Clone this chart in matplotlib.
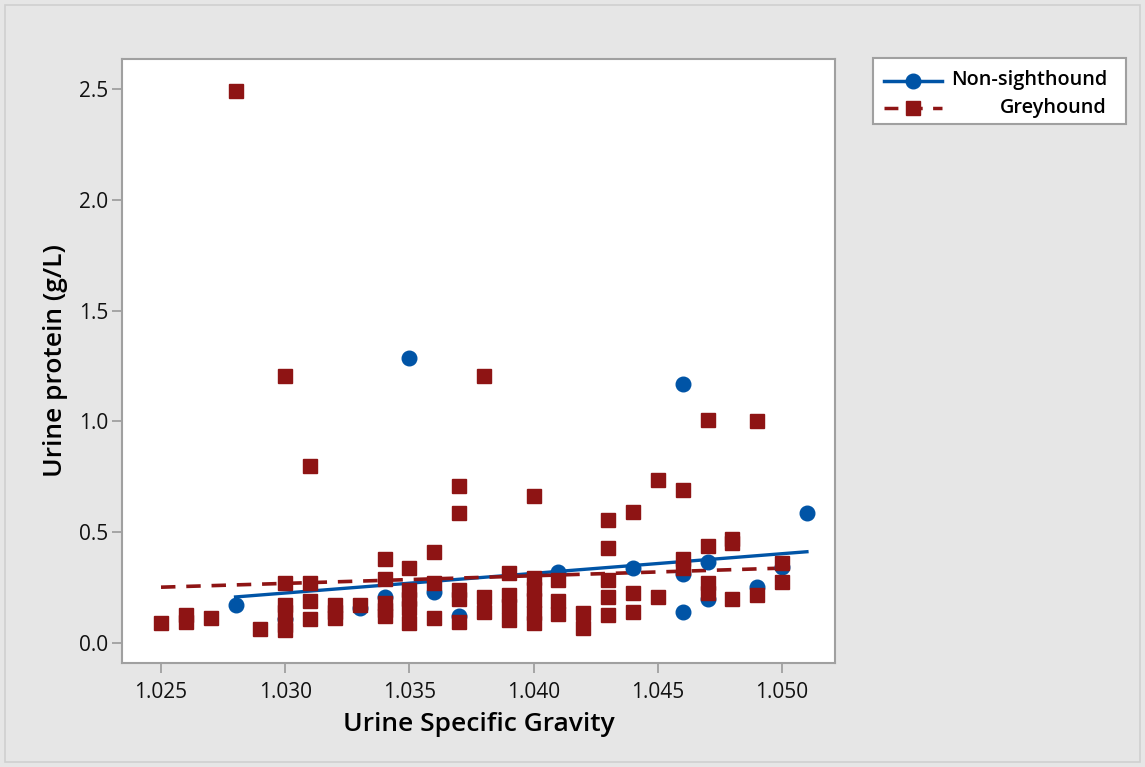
import numpy as np
import matplotlib.pyplot as plt
from matplotlib.lines import Line2D

plt.rcParams['font.family'] = ['Open Sans', 'DejaVu Sans']

# greyhound samples: specific gravity and protein (g/L)
grey_sg = [1.025,
           1.026, 1.026,
           1.027,
           1.028,
           1.029,
           1.030, 1.030, 1.030, 1.030, 1.030, 1.030,
           1.031, 1.031, 1.031, 1.031,
           1.032, 1.032, 1.032,
           1.033,
           1.034, 1.034, 1.034, 1.034, 1.034,
           1.035, 1.035, 1.035, 1.035, 1.035,
           1.036, 1.036, 1.036,
           1.037, 1.037, 1.037, 1.037, 1.037,
           1.038, 1.038, 1.038,
           1.039, 1.039, 1.039, 1.039,
           1.040, 1.040, 1.040, 1.040, 1.040, 1.040,
           1.041, 1.041, 1.041,
           1.042, 1.042,
           1.043, 1.043, 1.043, 1.043, 1.043,
           1.044, 1.044, 1.044,
           1.045, 1.045,
           1.046, 1.046, 1.046,
           1.047, 1.047, 1.047, 1.047,
           1.048, 1.048, 1.048,
           1.049, 1.049,
           1.050, 1.050]
grey_prot = [0.09,
             0.125, 0.095,
             0.115,
             2.49,
             0.065,
             1.205, 0.27, 0.17, 0.14, 0.08, 0.06,
             0.80, 0.27, 0.19, 0.11,
             0.17, 0.14, 0.115,
             0.17,
             0.38, 0.29, 0.18, 0.15, 0.12,
             0.34, 0.24, 0.20, 0.16, 0.09,
             0.41, 0.27, 0.115,
             0.71, 0.585, 0.24, 0.20, 0.095,
             1.205, 0.21, 0.14,
             0.315, 0.215, 0.165, 0.105,
             0.665, 0.295, 0.245, 0.195, 0.135, 0.09,
             0.285, 0.19, 0.13,
             0.135, 0.07,
             0.555, 0.43, 0.285, 0.21, 0.125,
             0.59, 0.225, 0.14,
             0.735, 0.21,
             0.69, 0.38, 0.34,
             1.005, 0.44, 0.27, 0.225,
             0.47, 0.45, 0.20,
             1.00, 0.215,
             0.36, 0.275]

# non-sighthound samples
nons_sg = [1.028, 1.030, 1.033, 1.034, 1.035, 1.036, 1.037, 1.041, 1.044,
           1.046, 1.046, 1.046, 1.047, 1.047, 1.049, 1.050, 1.051]
nons_prot = [0.17, 0.11, 0.16, 0.21, 1.285, 0.23, 0.12, 0.32, 0.34,
             1.17, 0.31, 0.14, 0.365, 0.20, 0.255, 0.345, 0.585]

# fitted lines (end points)
nons_fit_sg = [1.028, 1.051]
nons_fit = [0.208, 0.412]
grey_fit_sg = [1.025, 1.050]
grey_fit = [0.252, 0.338]

labels = ['Non-sighthound', 'Greyhound']
xticks = [1.025, 1.030, 1.035, 1.040, 1.045, 1.050]
yticks = [0.0, 0.5, 1.0, 1.5, 2.0, 2.5]

blue = '#0054a6'
red = '#8e1414'
edge = '#a0a0a0'
W, H = 1145, 767

fig = plt.figure(figsize=(W / 100, H / 100), dpi=100, facecolor='#e6e6e6')
ax = fig.add_axes([122 / W, 1 - 663 / H, (835 - 122) / W, (663 - 59) / H])
ax.set_facecolor('white')

ax.plot(nons_fit_sg, nons_fit, color=blue, lw=2.4, zorder=2)
ax.plot(grey_fit_sg, grey_fit, color=red, lw=2.6, dashes=(4, 3), zorder=2)
ax.plot(nons_sg, nons_prot, 'o', color=blue, ms=10.5, mec=blue, zorder=3)
ax.plot(grey_sg, grey_prot, 's', color=red, ms=9.5, mec=red, zorder=4)

ax.set_xlim(1.02343, 1.05213)
ax.set_ylim(-0.09, 2.635)
ax.set_xticks(xticks)
ax.set_xticklabels([f'{v:.3f}' for v in xticks])
ax.set_yticks(yticks)
ax.set_yticklabels([f'{v:.1f}' for v in yticks])
ax.tick_params(direction='out', length=7, width=1.3, color=edge,
               labelsize=15, labelcolor='#111111')
ax.tick_params(axis='x', pad=7)
ax.tick_params(axis='y', pad=3)
for s in ax.spines.values():
    s.set_color(edge)
    s.set_linewidth(1.5)

ax.set_xlabel('Urine Specific Gravity', fontsize=19, fontweight='semibold', labelpad=6)
ax.set_ylabel('Urine protein (g/L)', fontsize=19, fontweight='semibold', labelpad=8)

# legend drawn by hand so labels can be right-aligned like the original
fig.patches.append(plt.Rectangle((873 / W, 1 - 124 / H), 253 / W, 66 / H,
                                 transform=fig.transFigure, facecolor='white',
                                 edgecolor=edge, lw=1.5))
rows = [(80.5, blue, 'o', 10.5, None), (108, red, 's', 9.5, (4, 3))]
for (yy, c, m, ms, d), lab in zip(rows, labels):
    ln = Line2D([884 / W, 942 / W], [1 - yy / H] * 2, transform=fig.transFigure,
                color=c, lw=2.5)
    if d:
        ln.set_dashes(d)
    fig.lines.append(ln)
    fig.lines.append(Line2D([913 / W], [1 - yy / H], transform=fig.transFigure,
                            color=c, marker=m, ms=ms, ls='none'))
    fig.text(1107 / W, 1 - yy / H, lab, ha='right', va='center', fontsize=14.3,
             fontweight='semibold')

# outer border
fig.patches.append(plt.Rectangle((5 / W, 5 / H), 1 - 10 / W, 1 - 10 / H,
                                 transform=fig.transFigure, fill=False,
                                 edgecolor='#d0d0d0', lw=1.2))

fig.savefig('out.png', dpi=100, facecolor=fig.get_facecolor())
